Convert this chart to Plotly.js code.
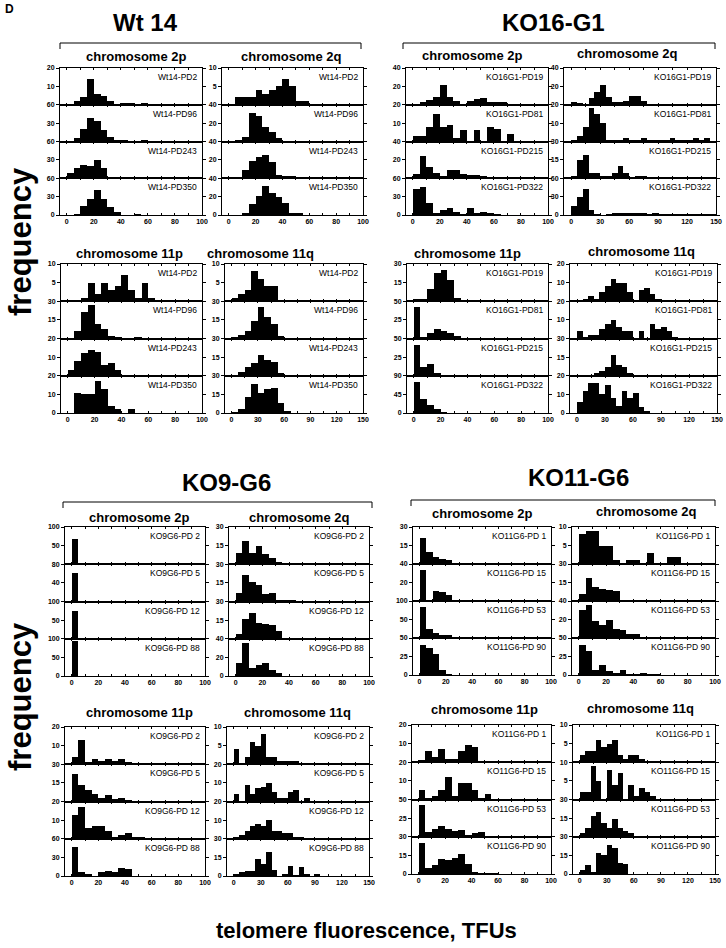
<!DOCTYPE html>
<html><head><meta charset="utf-8">
<script src="https://cdn.plot.ly/plotly-3.0.1.min.js"></script>
<style>html,body{margin:0;padding:0;background:#fff}#chart{width:726px;height:948px}</style>
</head><body><div id="chart"></div>
<script>
// ---------------- DATA (counts per bin) ----------------
// Wt 14
const wt14Labels = ['Wt14-PD2','Wt14-PD96','Wt14-PD243','Wt14-PD350'];
const wt14_2p_PD2   = [0,2,4,14,6,5,2,0,1,1,0,1];
const wt14_2p_PD96  = [0,5,21,39,33,19,7,3,3,0,0,2];
const wt14_2p_PD243 = [8,16,21,20,29,17,1,1,1,1,1,2,1,1,1];
const wt14_2p_PD350 = [0,2,14,26,41,26,13,5,0,0,1];
const wt14_2p_ymax  = [20,60,60,60];
const wt14_2q_PD2   = [0,2,2,2,4,3,4,5,7,5,1,1];
const wt14_2q_PD96  = [0,2,5,31,28,16,10,4,1,1];
const wt14_2q_PD243 = [0,0,9,19,23,25,18,4,2,2,1];
const wt14_2q_PD350 = [0,0,2,12,21,32,24,20,13,2,2];
const wt14_2q_ymax  = [10,40,40,40];
const wt14_11p_PD2   = [0,0,1,5,2,5,3,4,7,3,1,5,1];
const wt14_11p_PD96  = [0,6,21,27,12,8,2,1,0,0,1];
const wt14_11p_PD243 = [3,8,12,14,13,6,7,3];
const wt14_11p_PD350 = [0,11,10,10,17,13,4,2,0,2];
const wt14_11p_ymax  = [10,30,20,20];
const wt14_11q_PD2   = [1,2,3,8,6,4,4];
const wt14_11q_PD96  = [1,3,6,14,25,17,12,2];
const wt14_11q_PD243 = [0,3,7,10,17,13,11,2,1];
const wt14_11q_PD350 = [1,3,13,23,16,19,20,8,2];
const wt14_11q_ymax  = [10,30,30,30];
// KO16-G1
const ko16Labels = ['KO16G1-PD19','KO16G1-PD81','KO16G1-PD215','KO16G1-PD322'];
const ko16_2p_PD19  = [0,3,5,8,21,8,4,1,4,6,7,3,3,3];
const ko16_2p_PD81  = [3,3,8,15,8,9,2,6,0,6,0,8,7,0,4];
const ko16_2p_PD215 = [5,24,12,6,2,9,9,5,3,3,2,1];
const ko16_2p_PD322 = [42,45,20,4,8,12,5,2,11,4,5,4,2];
const ko16_2p_ymax  = [40,20,40,60];
const ko16_2q_PD19  = [3,2,0,7,14,21,8,3,3,4,9,9,4,1];
const ko16_2q_PD81  = [1,3,8,18,15,10,1,1,1,2,1,1,2,1,1,1,1,2,1,1,1,2,1,2];
const ko16_2q_PD215 = [2,15,19,4,4,2,2,4,10,4,1,2,2,1,0,1,0,1];
const ko16_2q_PD322 = [15,30,43,8,2,0,2,3,4,3,4,3,3,2,3,2,2,1,1,1,1,1,1,1,1];
const ko16_2q_ymax  = [40,20,30,60];
const ko16_11p_PD19  = [2,2,10,23,25,17,3,0,1,0,0,0,1];
const ko16_11p_PD81  = [42,2,7,13,10,7,3];
const ko16_11p_PD215 = [41,12,16,4];
const ko16_11p_PD322 = [76,33,19,9,2];
const ko16_11p_ymax  = [30,50,50,90];
const ko16_11q_PD19  = [0,1,3,1,5,8,12,10,10,5,0,6,7,4,1];
const ko16_11q_PD81  = [4,1,2,2,5,8,10,6,4,4,0,4,0,8,5,6,4,1];
const ko16_11q_PD215 = [1,1,1,2,4,7,17,9,7,2,0,0,1,1];
const ko16_11q_PD322 = [6,12,16,16,10,15,8,4,12,8,11,3,1];
const ko16_11q_ymax  = [20,20,30,20];
// KO9-G6
const ko9Labels = ['KO9G6-PD 2','KO9G6-PD 5','KO9G6-PD 12','KO9G6-PD 88'];
const ko9_2p_PD2  = [68];
const ko9_2p_PD5  = [61,0,2,1,1];
const ko9_2p_PD12 = [75,1,0,0,0,0,2];
const ko9_2p_PD88 = [93];
const ko9_2p_ymax = [100,80,100,100];
const ko9_2q_PD2  = [9,19,9,15,8,5,2];
const ko9_2q_PD5  = [7,21,16,13,6,7,1,1,1];
const ko9_2q_PD12 = [4,16,21,13,12,11,6,1];
const ko9_2q_PD88 = [14,35,9,12,14,6,3];
const ko9_2q_ymax = [30,30,30,40];
const ko9_11p_PD2  = [4,13,1,3,2,3,2,3,1];
const ko9_11p_PD5  = [22,13,9,6,3,5,2,3,1];
const ko9_11p_PD12 = [13,17,6,7,7,4,1,2,3,1,1];
const ko9_11p_PD88 = [46,6,3,0,6,8,6,13,11];
const ko9_11p_ymax = [20,30,20,60];
const ko9_11q_PD2  = [4,0,2,6,5,8,2,2,1,1,1,1];
const ko9_11q_PD5  = [4,0,9,4,7,8,10,5,2,2,5,6,0,2];
const ko9_11q_PD12 = [1,2,4,7,8,7,10,4,4,3,3,1,1];
const ko9_11q_PD88 = [2,3,4,4,14,10,19,5,0,2,8,1,7,2,0,2];
const ko9_11q_ymax = [10,20,20,30];
// KO11-G6
const ko11Labels = ['KO11G6-PD 1','KO11G6-PD 15','KO11G6-PD 53','KO11G6-PD 90'];
const ko11_2p_PD1  = [21,10,6,4,3,0,0,0,1,1];
const ko11_2p_PD15 = [34,0,11,10,6];
const ko11_2p_PD53 = [84,24,13,8,8,2];
const ko11_2p_PD90 = [41,36,29,7,2];
const ko11_2p_ymax = [30,40,100,50];
const ko11_2q_PD1  = [8,9,9,5,5,1,0,1,1,0,3,0,0,2,2];
const ko11_2q_PD15 = [6,19,11,10,9,8];
const ko11_2q_PD53 = [30,36,18,14,19,10,9,4,4,1];
const ko11_2q_PD90 = [40,33,7,14,6,3,7,1,1,3,1,1];
const ko11_2q_ymax = [10,30,40,50];
const ko11_11p_PD1  = [1,6,3,7,2,2,6,9,8];
const ko11_11p_PD15 = [5,1,2,5,12,2,9,9,5,1,3];
const ko11_11p_PD53 = [43,6,11,15,11,8,9,3,5,6,1,0,0,1,0,1];
const ko11_11p_PD90 = [25,5,7,12,11,13,16,8,2,1,1,1];
const ko11_11p_ymax = [20,20,50,30];
const ko11_11q_PD1  = [2,3,3,6,4,5,6,2,1,2,2,1];
const ko11_11q_PD15 = [2,2,9,5,0,8,4,7,0,4,1,3,2,1];
const ko11_11q_PD53 = [3,7,17,20,11,7,14,7,5,3,1,1,0,0,0,0,1];
const ko11_11q_PD90 = [3,7,2,17,15,23,21,9,8];
const ko11_11q_ymax = [10,10,30,30];

const groupTitles = ['Wt 14','KO16-G1','KO9-G6','KO11-G6'];
const chromTitles = ['chromosome 2p','chromosome 2q','chromosome 11p','chromosome 11q'];

// ---------------- LAYOUT ----------------
const W = 726, H = 948;
const FONT = 'Liberation Sans, Arial, Helvetica, sans-serif';
const traces = [];
const layout = {width:W,height:H,margin:{l:0,r:0,t:0,b:0},showlegend:false,
  paper_bgcolor:'#fff',plot_bgcolor:'#fff',bargap:0,annotations:[],shapes:[],
  font:{family:FONT,color:'#000'}};

function panel(data, ymax, labels, xmax, bin, left, right, top, bottom, title, tx, ty){
  return {data, ymax, labels, xmax, bin, left, right, top, bottom, title, tx, ty};
}
const panels = [
  panel([wt14_2p_PD2,wt14_2p_PD96,wt14_2p_PD243,wt14_2p_PD350], wt14_2p_ymax, wt14Labels, 100,5, 60,202,68,215, chromTitles[0],136,57),
  panel([wt14_2q_PD2,wt14_2q_PD96,wt14_2q_PD243,wt14_2q_PD350], wt14_2q_ymax, wt14Labels, 100,5, 222,363,68,215, chromTitles[1],291,57),
  panel([wt14_11p_PD2,wt14_11p_PD96,wt14_11p_PD243,wt14_11p_PD350], wt14_11p_ymax, wt14Labels, 100,5, 61,202,264,413, chromTitles[2],129,253),
  panel([wt14_11q_PD2,wt14_11q_PD96,wt14_11q_PD243,wt14_11q_PD350], wt14_11q_ymax, wt14Labels, 150,7.5, 225,363,264,413, chromTitles[3],260,253),
  panel([ko16_2p_PD19,ko16_2p_PD81,ko16_2p_PD215,ko16_2p_PD322], ko16_2p_ymax, ko16Labels, 100,5, 406,548,68,215, chromTitles[0],472,56),
  panel([ko16_2q_PD19,ko16_2q_PD81,ko16_2q_PD215,ko16_2q_PD322], ko16_2q_ymax, ko16Labels, 150,6, 564,716,68,215, chromTitles[1],627,54),
  panel([ko16_11p_PD19,ko16_11p_PD81,ko16_11p_PD215,ko16_11p_PD322], ko16_11p_ymax, ko16Labels, 100,5, 407,548,264,413, chromTitles[2],467,253),
  panel([ko16_11q_PD19,ko16_11q_PD81,ko16_11q_PD215,ko16_11q_PD322], ko16_11q_ymax, ko16Labels, 150,6, 570,717,264,413, chromTitles[3],641,252),
  panel([ko9_2p_PD2,ko9_2p_PD5,ko9_2p_PD12,ko9_2p_PD88], ko9_2p_ymax, ko9Labels, 100,5, 65,205,527,676, chromTitles[0],139,517),
  panel([ko9_2q_PD2,ko9_2q_PD5,ko9_2q_PD12,ko9_2q_PD88], ko9_2q_ymax, ko9Labels, 100,5, 229,369,527,676, chromTitles[1],299,517),
  panel([ko9_11p_PD2,ko9_11p_PD5,ko9_11p_PD12,ko9_11p_PD88], ko9_11p_ymax, ko9Labels, 100,5, 65,205,727,876, chromTitles[2],139,712),
  panel([ko9_11q_PD2,ko9_11q_PD5,ko9_11q_PD12,ko9_11q_PD88], ko9_11q_ymax, ko9Labels, 150,6, 227,369,727,876, chromTitles[3],297,712),
  panel([ko11_2p_PD1,ko11_2p_PD15,ko11_2p_PD53,ko11_2p_PD90], ko11_2p_ymax, ko11Labels, 100,5, 413,551,527,675, chromTitles[0],482,513),
  panel([ko11_2q_PD1,ko11_2q_PD15,ko11_2q_PD53,ko11_2q_PD90], ko11_2q_ymax, ko11Labels, 100,5, 572,715,527,675, chromTitles[1],646,512),
  panel([ko11_11p_PD1,ko11_11p_PD15,ko11_11p_PD53,ko11_11p_PD90], ko11_11p_ymax, ko11Labels, 100,5, 412,551,725,874, chromTitles[2],484,709),
  panel([ko11_11q_PD1,ko11_11q_PD15,ko11_11q_PD53,ko11_11q_PD90], ko11_11q_ymax, ko11Labels, 150,6, 573,715,725,874, chromTitles[3],640,708)
];

let n = 0;
const tickFont = {family:FONT,size:7,color:'#000',weight:'bold'};
panels.forEach(p => {
  const h = (p.bottom - p.top) / 4;
  const xmin = p.xmax === 150 ? -7.5 : -5;
  const step = p.xmax === 150 ? 15 : 10;
  const tv = [], tt = [];
  for (let v = 0; v <= p.xmax; v += step) { tv.push(v); tt.push(((v/step) % 2 === 0) ? String(v) : ''); }
  for (let i = 0; i < 4; i++) {
    n++;
    const xr = n === 1 ? 'x' : 'x' + n, yr = n === 1 ? 'y' : 'y' + n;
    const xa = n === 1 ? 'xaxis' : 'xaxis' + n, ya = n === 1 ? 'yaxis' : 'yaxis' + n;
    const counts = p.data[i];
    traces.push({type:'bar', x:counts.map((c,k)=>k*p.bin+p.bin/2), y:counts,
      width:counts.map(()=>p.bin), marker:{color:'#000',line:{width:0}},
      xaxis:xr, yaxis:yr, hoverinfo:'skip'});
    const t = p.top + i*h, b = t + h, last = i === 3;
    layout[xa] = {domain:[p.left/W, p.right/W], anchor:yr, range:[xmin, p.xmax],
      showline:true, mirror:'ticks', linecolor:'#000', linewidth:1,
      ticks:'inside', ticklen:2, tickcolor:'#000', tickwidth:1,
      tickvals:tv, ticktext:tt, showticklabels:last, tickfont:tickFont,
      showgrid:false, zeroline:false, fixedrange:true};
    const ym = p.ymax[i];
    layout[ya] = {domain:[1-b/H, 1-t/H], anchor:xr, range:[0, ym],
      showline:true, mirror:'ticks', linecolor:'#000', linewidth:1,
      ticks:'outside', ticklen:3, tickcolor:'#000', tickwidth:1,
      tickvals: last ? [0, ym/2, ym] : [ym/2, ym], ticktext: (last ? [0, ym/2, ym] : [ym/2, ym]).map(String),
      tickfont:tickFont, showgrid:false, zeroline:false, fixedrange:true};
    layout.annotations.push({xref:'paper', yref:'paper', x:(p.right-3)/W, y:1-(t+2)/H,
      xanchor:'right', yanchor:'top', text:p.labels[i], showarrow:false,
      font:{family:FONT,size:8.5,color:'#000'}});
  }
  layout.annotations.push({xref:'paper', yref:'paper', x:p.tx/W, y:1-p.ty/H, xanchor:'center', yanchor:'middle',
    text:'<b>'+p.title+'</b>', showarrow:false, font:{family:FONT,size:13,color:'#000'}});
});

// group titles & brackets
const groups = [
  {t:groupTitles[0], x:145, y:22, bl:60, br:361, by:43},
  {t:groupTitles[1], x:553, y:22, bl:403, br:715, by:43},
  {t:groupTitles[2], x:226, y:482, bl:63, br:372, by:502},
  {t:groupTitles[3], x:578, y:477, bl:411, br:715, by:500}
];
groups.forEach(g => {
  layout.annotations.push({xref:'paper', yref:'paper', x:g.x/W, y:1-g.y/H, xanchor:'center', yanchor:'middle',
    text:'<b>'+g.t+'</b>', showarrow:false, font:{family:FONT,size:24,color:'#000'}});
  const ln = {color:'#000', width:1};
  layout.shapes.push({type:'line', xref:'paper', yref:'paper', x0:g.bl/W, x1:g.br/W, y0:1-g.by/H, y1:1-g.by/H, line:ln});
  layout.shapes.push({type:'line', xref:'paper', yref:'paper', x0:g.bl/W, x1:g.bl/W, y0:1-g.by/H, y1:1-(g.by+6)/H, line:ln});
  layout.shapes.push({type:'line', xref:'paper', yref:'paper', x0:g.br/W, x1:g.br/W, y0:1-g.by/H, y1:1-(g.by+6)/H, line:ln});
});

layout.annotations.push({xref:'paper', yref:'paper', x:3/W, y:1-9/H, xanchor:'left', yanchor:'middle',
  text:'<b>D</b>', showarrow:false, font:{family:FONT,size:12,color:'#000'}});
[242, 697].forEach(yy => layout.annotations.push({xref:'paper', yref:'paper', x:20/W, y:1-yy/H,
  xanchor:'center', yanchor:'middle', textangle:-90, text:'<b>frequency</b>', showarrow:false,
  font:{family:FONT,size:31,color:'#000'}}));
layout.annotations.push({xref:'paper', yref:'paper', x:367/W, y:1-930/H, xanchor:'center', yanchor:'middle',
  text:'<b>telomere fluorescence, TFUs</b>', showarrow:false, font:{family:FONT,size:22,color:'#000'}});

Plotly.newPlot('chart', traces, layout, {staticPlot:true, displayModeBar:false});
</script>
</body></html>
